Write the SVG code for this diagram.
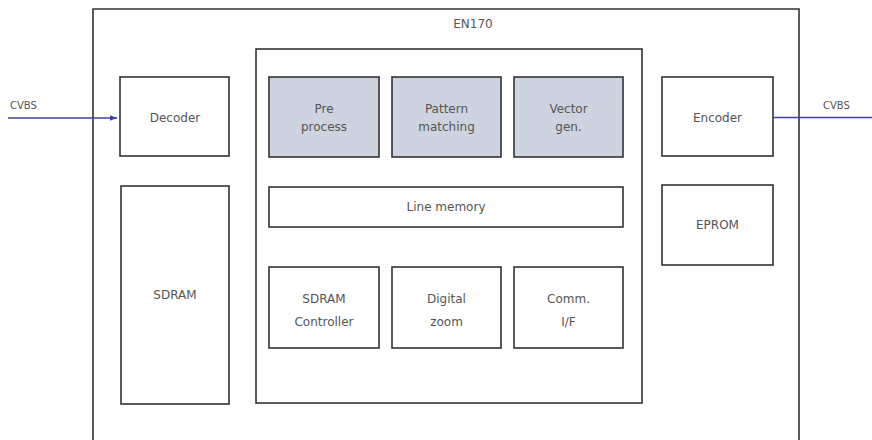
<svg xmlns="http://www.w3.org/2000/svg" width="872" height="440" viewBox="0 0 872 440">
<defs>
<style>
.box{fill:#fff;stroke:#333;stroke-width:1.6}
.proc{fill:#cdd3df;stroke:#333;stroke-width:1.6}
.t{font-family:"DejaVu Sans",Verdana,sans-serif;font-size:12px;fill:#555;text-anchor:middle}
.s{font-family:"DejaVu Sans",Verdana,sans-serif;font-size:10px;fill:#555}
.link{stroke:#4040a8;stroke-width:1.4;fill:none}
</style>
<marker id="arr" viewBox="0 0 10 10" refX="10" refY="5" markerWidth="7" markerHeight="7" markerUnits="userSpaceOnUse" orient="auto">
<path d="M0,1 L10,5 L0,9 z" fill="#4040a8"/>
</marker>
</defs>
<rect width="872" height="440" fill="#fff"/>
<g id="en170">
<path d="M93,440 V9 H799 V440" class="box" fill="none"/>
<text class="t" x="473" y="28">EN170</text>
</g>
<g id="core"><rect class="box" x="256" y="49" width="386" height="354"/></g>
<g id="decoder"><rect class="box" x="120" y="77" width="109" height="79"/><text class="t" x="175" y="122">Decoder</text></g>
<g id="sdram"><rect class="box" x="121" y="186" width="108" height="218"/><text class="t" x="175" y="299">SDRAM</text></g>
<g id="preprocess"><rect class="proc" x="269" y="77" width="110" height="80"/><text class="t" x="324" y="113">Pre</text><text class="t" x="324" y="131">process</text></g>
<g id="pattern"><rect class="proc" x="392" y="77" width="109" height="80"/><text class="t" x="446.5" y="113">Pattern</text><text class="t" x="446.5" y="131">matching</text></g>
<g id="vector"><rect class="proc" x="514" y="77" width="109" height="80"/><text class="t" x="568.5" y="113">Vector</text><text class="t" x="568.5" y="131">gen.</text></g>
<g id="linememory"><rect class="box" x="269" y="187" width="354" height="40"/><text class="t" x="446" y="211">Line memory</text></g>
<g id="sdramctrl"><rect class="box" x="269" y="267" width="110" height="81"/><text class="t" x="324" y="303">SDRAM</text><text class="t" x="324" y="326">Controller</text></g>
<g id="zoom"><rect class="box" x="392" y="267" width="109" height="81"/><text class="t" x="446.5" y="303">Digital</text><text class="t" x="446.5" y="326">zoom</text></g>
<g id="comm"><rect class="box" x="514" y="267" width="109" height="81"/><text class="t" x="568.5" y="303">Comm.</text><text class="t" x="568.5" y="326">I/F</text></g>
<g id="encoder"><rect class="box" x="662" y="77" width="111" height="79"/><text class="t" x="717.5" y="122">Encoder</text></g>
<g id="eprom"><rect class="box" x="662" y="185" width="111" height="80"/><text class="t" x="717.5" y="229">EPROM</text></g>
<g id="connectors">
<line class="link" x1="8" y1="118" x2="117" y2="118" marker-end="url(#arr)"/>
<text class="s" x="10" y="109">CVBS</text>
<line class="link" x1="773" y1="117.5" x2="872" y2="117.5"/>
<text class="s" x="823" y="109">CVBS</text>
</g>
</svg>
